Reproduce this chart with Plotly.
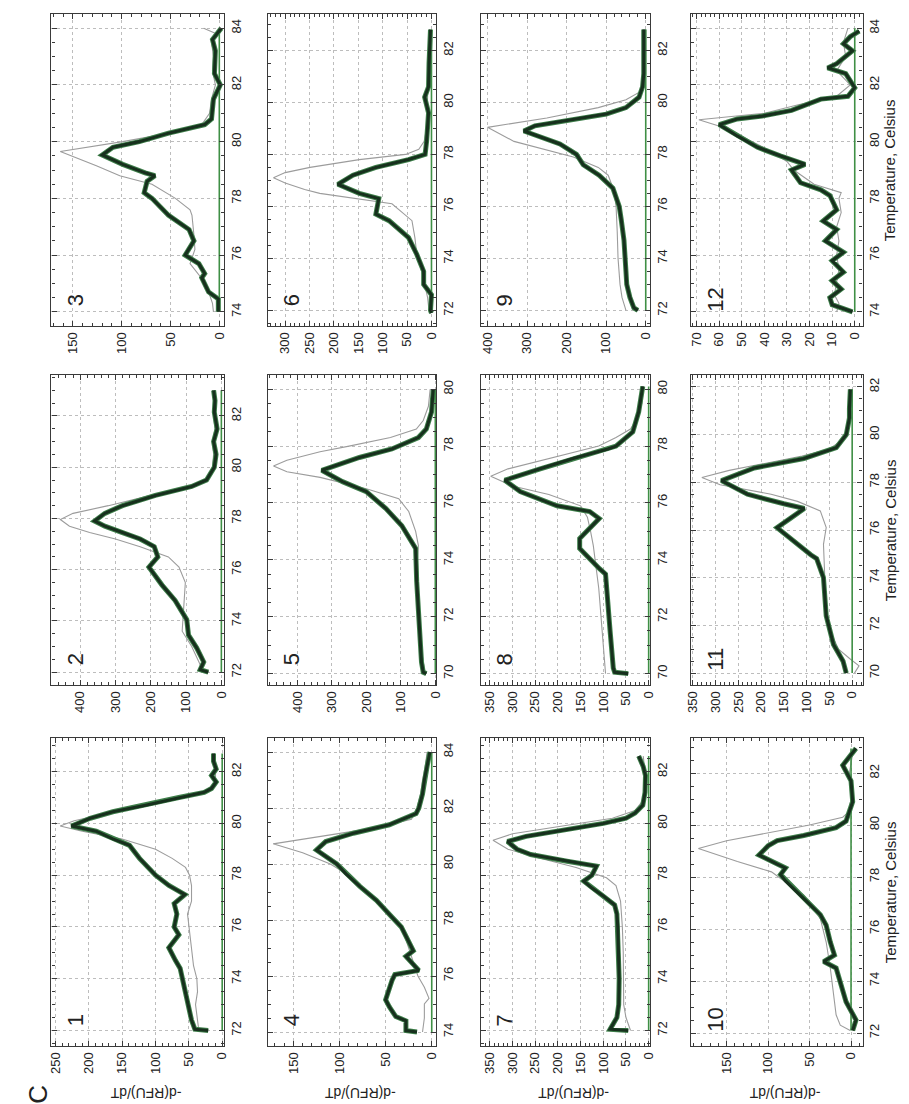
import plotly.graph_objects as go

# ------------------------------------------------------------------
# Data: temperature (Celsius) and -d(RFU)/dT
# "thick" = bold dark-green curve, "gray" = thin grey curve
# ------------------------------------------------------------------
T1_thick = [72.0, 72.05, 72.4, 72.9, 73.6, 74.4, 74.7, 75.2, 75.7, 76.0, 76.5, 76.9, 77.25, 77.6, 78.0, 78.65, 79.15, 79.4, 79.7, 79.9, 80.2, 80.45, 80.7, 81.0, 81.2, 81.35, 81.6, 81.85, 82.1, 82.4, 82.7]
V1_thick = [21, 41, 46, 50, 56, 63, 70, 80, 65, 72, 68, 72, 56, 80, 100, 124, 139, 164, 189, 226, 198, 164, 115, 65, 27, 16, 9, 16, 9, 13, 13]
T1_gray = [72.0, 72.5, 73.0, 73.5, 74.0, 74.5, 75.0, 75.5, 76.0, 76.5, 77.0, 77.6, 78.0, 78.3, 78.65, 79.0, 79.4, 79.7, 79.9, 80.1, 80.4, 80.8, 81.1, 81.3, 81.6, 82.0, 82.4, 82.7]
V1_gray = [35, 38, 40, 37, 38, 43, 45, 48, 50, 52, 46, 46, 49, 55, 75, 100, 150, 210, 243, 222, 170, 100, 45, 20, 10, 10, 11, 12]

T2_thick = [72.0, 72.1, 72.4, 72.95, 73.45, 74.05, 74.8, 75.4, 76.1, 76.5, 76.9, 77.2, 77.45, 77.7, 77.9, 78.2, 78.5, 78.9, 79.25, 79.5, 80.0, 80.5, 81.0, 81.5, 82.15, 82.6, 83.0]
V2_thick = [37, 60, 50, 70, 93, 98, 131, 168, 205, 180, 190, 230, 280, 330, 359, 330, 280, 187, 84, 42, 20, 15, 22, 12, 20, 18, 22]
T2_gray = [72.0, 72.4, 73.0, 73.6, 74.3, 75.0, 75.5, 76.1, 76.5, 76.9, 77.2, 77.45, 77.7, 77.96, 78.2, 78.5, 78.9, 79.2, 79.5, 80.0, 80.5, 81.0, 81.5, 82.0, 82.5, 83.0]
V2_gray = [50, 64, 84, 111, 108, 104, 102, 120, 150, 230, 300, 373, 430, 456, 420, 320, 200, 100, 45, 25, 22, 25, 18, 22, 20, 25]

T3_thick = [74.0, 74.45, 74.7, 75.2, 75.35, 75.7, 76.0, 76.5, 76.9, 77.4, 78.0, 78.2, 78.6, 78.8, 78.9, 79.2, 79.53, 79.8, 80.0, 80.3, 80.6, 80.8, 81.5, 82.0, 82.4, 83.2, 83.6, 84.0]
V3_thick = [1, 1, 11, 18, 15, 21, 35, 26, 31, 52, 69, 77, 74, 66, 76, 99, 120, 109, 82, 52, 15, 8, 6, -1, 5, 4, 7, -2]
T3_gray = [74.0, 74.3, 74.6, 75.0, 75.7, 76.2, 76.7, 77.4, 77.6, 78.0, 78.5, 78.8, 79.15, 79.65, 80.0, 80.4, 80.6, 81.0, 81.5, 82.0, 82.5, 83.0, 83.5, 83.8, 84.0]
V3_gray = [6, 7, 10, 14, 30, 25, 26, 28, 30, 45, 69, 102, 126, 163, 99, 35, 18, 10, 8, 4, 7, 6, 8, 3, 16]

T4_thick = [74.0, 74.05, 74.4, 74.55, 74.9, 75.15, 75.85, 76.05, 76.2, 76.7, 76.9, 77.4, 77.75, 78.1, 78.7, 79.2, 79.65, 80.0, 80.5, 80.8, 81.1, 81.4, 81.8, 82.0, 82.5, 83.0, 83.5, 84.0]
V4_thick = [16, 28, 28, 39, 46, 50, 43, 40, 14, 28, 20, 28, 33, 43, 60, 78, 93, 103, 125, 115, 85, 46, 17, 14, 10, 8, 5, 2]
T4_gray = [74.0, 74.5, 75.0, 75.2, 75.6, 76.0, 76.5, 77.0, 77.5, 78.0, 78.5, 79.0, 79.5, 80.0, 80.4, 80.72, 81.0, 81.3, 81.6, 82.0, 82.5, 83.0, 83.5, 84.0]
V4_gray = [10, 8, 8, 3, 8, 15, 20, 25, 30, 40, 55, 70, 85, 110, 140, 172, 120, 60, 22, 16, 12, 10, 7, 5]

T5_thick = [70.0, 70.05, 70.4, 72.05, 73.25, 74.4, 74.65, 75.2, 75.8, 76.4, 76.75, 77.15, 77.6, 77.9, 78.3, 78.6, 79.2, 80.0]
V5_thick = [26, 35, 40, 49, 54, 57, 69, 97, 143, 200, 269, 329, 220, 126, 49, 26, 11, 6]
T5_gray = [70.0, 71.0, 72.0, 73.0, 74.0, 74.5, 75.0, 75.7, 76.15, 76.5, 76.75, 76.9, 77.1, 77.3, 77.5, 77.8, 78.0, 78.3, 78.6, 78.9, 79.4, 80.0]
V5_gray = [30, 42, 47, 50, 52, 49, 57, 77, 106, 200, 280, 334, 430, 469, 430, 334, 250, 130, 55, 35, 20, 15]

T6_thick = [71.9, 72.0, 72.6, 73.0, 73.5, 74.15, 74.8, 75.45, 75.7, 76.0, 76.3, 76.5, 76.85, 77.2, 77.5, 77.8, 78.0, 78.5, 79.0, 79.6, 80.2, 80.6, 81.5, 82.2, 82.8]
V6_thick = [0, 2, 0, 16, 16, 30, 47, 87, 114, 111, 108, 148, 192, 161, 114, 47, 13, 10, 8, 6, 14, 6, 5, 4, 2]
T6_gray = [72.0, 72.5, 73.0, 73.5, 74.15, 74.8, 75.45, 76.1, 76.5, 76.65, 76.9, 77.1, 77.3, 77.5, 77.8, 78.0, 78.2, 78.5, 79.0, 80.0, 81.0, 82.0, 82.8]
V6_gray = [5, 8, 14, 20, 30, 34, 40, 81, 229, 260, 300, 324, 300, 249, 148, 53, 26, 15, 10, 8, 6, 5, 4]

T7_thick = [72.0, 72.05, 72.5, 73.0, 74.0, 75.0, 76.0, 76.5, 76.85, 77.2, 77.5, 77.77, 78.0, 78.35, 78.54, 78.8, 79.0, 79.3, 79.5, 79.8, 80.0, 80.2, 80.4, 80.7, 81.2, 81.85, 82.2, 82.6]
V7_thick = [45, 85, 70, 66, 65, 66, 68, 70, 75, 100, 125, 143, 125, 115, 180, 260, 290, 311, 270, 165, 100, 50, 30, 13, 8, 7, 12, 22]
T7_gray = [72.0, 72.5, 73.0, 74.0, 75.0, 76.0, 77.0, 77.6, 77.9, 78.3, 78.7, 79.0, 79.35, 79.6, 79.9, 80.2, 80.5, 80.9, 81.5, 82.0, 82.6]
V7_gray = [40, 50, 55, 55, 56, 58, 62, 72, 93, 160, 250, 310, 343, 300, 190, 80, 30, 12, 8, 8, 12]

T8_thick = [70.0, 70.05, 70.2, 70.5, 71.5, 72.5, 73.5, 73.7, 74.4, 74.75, 75.1, 75.45, 75.7, 75.9, 76.4, 76.8, 77.2, 77.57, 77.9, 78.0, 78.5, 79.2, 80.1]
V8_thick = [45, 75, 78, 80, 85, 90, 95, 109, 152, 152, 130, 109, 130, 202, 283, 317, 239, 165, 90, 72, 35, 22, 13]
T8_gray = [70.0, 71.0, 72.0, 73.0, 74.0, 74.5, 75.0, 75.5, 75.9, 76.3, 76.6, 76.94, 77.2, 77.6, 78.0, 78.3, 78.6, 79.0, 79.5, 80.0]
V8_gray = [95, 100, 105, 110, 118, 122, 128, 135, 150, 220, 300, 348, 310, 210, 110, 72, 40, 25, 15, 12]

T9_thick = [72.0, 72.1, 72.5, 73.0, 73.5, 74.0, 74.7, 75.5, 76.0, 76.7, 77.2, 77.6, 78.0, 78.4, 78.7, 78.9, 79.1, 79.35, 79.55, 79.8, 80.2, 80.6, 81.1, 82.0, 82.8]
V9_thick = [20, 30, 40, 48, 50, 52, 55, 62, 67, 83, 118, 158, 175, 217, 270, 308, 280, 180, 100, 50, 17, 8, 5, 5, 5]
T9_gray = [72.0, 72.5, 73.0, 74.0, 75.0, 76.0, 76.6, 77.2, 77.5, 77.9, 78.5, 79.04, 79.4, 79.8, 80.1, 80.4, 81.0, 82.0, 82.8]
V9_gray = [50, 60, 65, 70, 72, 75, 80, 95, 120, 183, 333, 400, 250, 120, 50, 15, 5, 5, 5]

T10_thick = [72.1, 72.5, 73.2, 74.0, 74.5, 74.75, 75.0, 75.5, 76.15, 76.55, 77.3, 77.85, 78.1, 78.35, 78.5, 78.85, 79.2, 79.4, 79.6, 79.9, 80.15, 80.9, 81.7, 82.3, 82.95]
V10_thick = [-2, -6, 6, 13, 18, 33, 20, 25, 30, 37, 61, 79, 85, 79, 89, 111, 100, 89, 57, 18, 6, -2, 0, 10, -6]
T10_gray = [72.1, 72.3, 72.7, 73.5, 74.5, 75.5, 76.4, 77.3, 77.85, 78.2, 78.6, 79.1, 79.4, 79.7, 80.0, 80.3, 80.5, 81.0, 82.0, 82.95]
V10_gray = [1, 13, 18, 21, 25, 30, 37, 57, 80, 96, 137, 184, 150, 100, 50, 10, 3, 0, 2, -3]

T11_thick = [70.0, 70.5, 71.2, 72.4, 74.0, 74.8, 74.96, 75.55, 76.1, 76.5, 76.9, 77.1, 77.5, 78.07, 78.6, 79.0, 79.45, 80.0, 80.7, 81.1, 81.9]
V11_thick = [13, 20, 41, 57, 63, 78, 91, 128, 165, 135, 105, 150, 230, 287, 215, 106, 35, 13, 6, 6, 4]
T11_gray = [70.0, 70.3, 70.6, 71.0, 71.5, 72.0, 73.0, 74.0, 75.0, 75.4, 76.1, 76.8, 77.2, 77.5, 77.9, 78.2, 78.5, 78.8, 79.1, 79.4, 79.8, 80.3, 81.0, 81.9]
V11_gray = [-5, -15, 5, 30, 42, 52, 58, 60, 63, 63, 57, 70, 120, 178, 290, 330, 270, 190, 110, 50, 20, 10, 6, 6]

T12_thick = [74.0, 74.25, 74.5, 74.8, 75.1, 75.4, 75.8, 76.1, 76.5, 76.9, 77.2, 77.6, 78.1, 78.3, 78.55, 79.0, 79.2, 79.4, 79.5, 79.8, 80.2, 80.6, 80.8, 80.9, 81.1, 81.5, 81.6, 81.9, 82.4, 82.6, 82.75, 83.2, 83.45, 83.7, 83.9]
V12_thick = [1, 10, 11, 6, 10, 5, 10, 5, 13, 8, 14, 8, 11, 15, 24, 28, 22, 30, 33, 43, 52, 60, 52, 41, 28, 15, 3, 0, 4, 12, 8, 1, 5, 2, -2]
T12_gray = [74.0, 74.3, 74.6, 75.0, 75.5, 76.0, 76.5, 77.0, 77.5, 78.0, 78.2, 78.5, 79.0, 79.3, 79.7, 80.1, 80.5, 80.77, 81.0, 81.3, 81.6, 82.0, 82.5, 83.0, 83.5, 84.0]
V12_gray = [8, 7, 9, 8, 7, 8, 7, 8, 6, 7, 6, 18, 27, 30, 38, 48, 58, 69, 40, 25, 8, 2, 8, 4, 5, 3]

# value-axis tick labels and temperature tick labels per panel
VTICKS = {1: [0, 50, 100, 150, 200, 250], 2: [0, 100, 200, 300, 400], 3: [0, 50, 100, 150],
          4: [0, 50, 100, 150], 5: [0, 100, 200, 300, 400], 6: [0, 50, 100, 150, 200, 250, 300],
          7: [0, 50, 100, 150, 200, 250, 300, 350], 8: [0, 50, 100, 150, 200, 250, 300, 350],
          9: [0, 100, 200, 300, 400], 10: [0, 50, 100, 150],
          11: [0, 50, 100, 150, 200, 250, 300, 350], 12: [0, 10, 20, 30, 40, 50, 60, 70]}
TTICKS = {1: [72, 74, 76, 78, 80, 82], 2: [72, 74, 76, 78, 80, 82], 3: [74, 76, 78, 80, 82, 84],
          4: [74, 76, 78, 80, 82, 84], 5: [70, 72, 74, 76, 78, 80], 6: [72, 74, 76, 78, 80, 82],
          7: [72, 74, 76, 78, 80, 82], 8: [70, 72, 74, 76, 78, 80], 9: [72, 74, 76, 78, 80, 82],
          10: [72, 74, 76, 78, 80, 82], 11: [70, 72, 74, 76, 78, 80, 82], 12: [74, 76, 78, 80, 82, 84]}

# ------------------------------------------------------------------
# Layout (figure is the original panel grid rotated 90 deg CCW)
# ------------------------------------------------------------------
W, H = 909, 1104
VRANGE = {1: [256, -3], 2: [481, -8], 3: [172, -5], 4: [178, -5], 5: [486, -3], 6: [336, -10],
          7: [370, -4], 8: [370, -4], 9: [417, -12], 10: [193, -14], 11: [354, -23], 12: [72.5, -3.5]}
TRANGE = {1: [71.4, 83.3], 2: [71.5, 83.6], 3: [73.5, 84.5], 4: [73.5, 84.5], 5: [69.6, 80.5],
          6: [71.4, 83.4], 7: [71.4, 83.3], 8: [69.6, 80.5], 9: [71.4, 83.4], 10: [71.5, 83.35],
          11: [69.5, 82.5], 12: [73.5, 84.5]}
COL_X = [(38, 213), (257, 428), (473, 645), (686, 860)]
ROW_Y = [(6, 318), (367, 677), (730, 1038)]

DATA = {1: (T1_thick, V1_thick, T1_gray, V1_gray), 2: (T2_thick, V2_thick, T2_gray, V2_gray),
        3: (T3_thick, V3_thick, T3_gray, V3_gray), 4: (T4_thick, V4_thick, T4_gray, V4_gray),
        5: (T5_thick, V5_thick, T5_gray, V5_gray), 6: (T6_thick, V6_thick, T6_gray, V6_gray),
        7: (T7_thick, V7_thick, T7_gray, V7_gray), 8: (T8_thick, V8_thick, T8_gray, V8_gray),
        9: (T9_thick, V9_thick, T9_gray, V9_gray), 10: (T10_thick, V10_thick, T10_gray, V10_gray),
        11: (T11_thick, V11_thick, T11_gray, V11_gray), 12: (T12_thick, V12_thick, T12_gray, V12_gray)}

FONT = "Liberation Sans, Arial, sans-serif"


def px(x):
    return x / W


def py(y):
    return 1 - y / H


def note(text, x, y, angle, size):
    return dict(text=text, x=px(x), y=py(y), xref="paper", yref="paper", showarrow=False,
                xanchor="center", yanchor="middle", textangle=angle,
                font=dict(family=FONT, size=size, color="#222"))


fig = go.Figure()
annotations = []
layout_axes = {}

for k in range(1, 13):
    col = (k - 1) // 3
    row = 2 - (k - 1) % 3
    x0, x1 = COL_X[col]
    y0, y1 = ROW_Y[row]
    xa = "x" if k == 1 else f"x{k}"
    ya = "y" if k == 1 else f"y{k}"
    Tk, Vk, Tg, Vg = DATA[k]

    # grey thin curve
    fig.add_trace(go.Scatter(x=Vg, y=Tg, xaxis=xa, yaxis=ya, mode="lines",
                             line=dict(color="#9c9c9c", width=1.1), showlegend=False,
                             hoverinfo="skip"))
    # green baseline at zero
    tmin, tmax = min(Tk + Tg), max(Tk + Tg)
    fig.add_trace(go.Scatter(x=[0, 0], y=[tmin, tmax], xaxis=xa, yaxis=ya, mode="lines",
                             line=dict(color="#3f8f45", width=1.6), showlegend=False,
                             hoverinfo="skip"))
    # thick curve: green halo + dark core
    fig.add_trace(go.Scatter(x=Vk, y=Tk, xaxis=xa, yaxis=ya, mode="lines",
                             line=dict(color="#3e7f4a", width=5.0),
                             showlegend=False, hoverinfo="skip"))
    fig.add_trace(go.Scatter(x=Vk, y=Tk, xaxis=xa, yaxis=ya, mode="lines",
                             line=dict(color="#17301d", width=3.1),
                             showlegend=False, hoverinfo="skip"))

    vt = VTICKS[k]
    vstep = vt[1] - vt[0]
    key_x = "xaxis" if k == 1 else f"xaxis{k}"
    key_y = "yaxis" if k == 1 else f"yaxis{k}"
    layout_axes[key_x] = dict(
        domain=[px(x0), px(x1)], anchor=ya, range=VRANGE[k], tickvals=vt,
        ticktext=[str(v) for v in vt], tickangle=-90, side="bottom",
        showline=True, linecolor="#3a3a3a", linewidth=1.3, mirror="ticks",
        ticks="inside", ticklen=5, tickcolor="#3a3a3a", tickwidth=1,
        minor=dict(ticks="inside", ticklen=3, dtick=vstep / 5, tick0=0, tickcolor="#3a3a3a",
                   showgrid=False),
        showgrid=True, gridcolor="#bdbdbd", griddash="dot", gridwidth=1,
        zeroline=False, tickfont=dict(family=FONT, size=13, color="#222"),
    )
    layout_axes[key_y] = dict(
        domain=[py(y1), py(y0)], anchor=xa, range=TRANGE[k], tickvals=TTICKS[k],
        tickangle=-90, side="right",
        showline=True, linecolor="#3a3a3a", linewidth=1.3, mirror="ticks",
        ticks="inside", ticklen=5, tickcolor="#3a3a3a", tickwidth=1,
        minor=dict(ticks="inside", ticklen=3, dtick=0.5, tick0=0, tickcolor="#3a3a3a",
                   showgrid=False),
        showgrid=True, gridcolor="#bdbdbd", griddash="dot", gridwidth=1,
        zeroline=False, tickfont=dict(family=FONT, size=13, color="#222"),
    )

    # panel number (bottom-left corner inside the frame)
    annotations.append(note(str(k), x0 + 24, y1 - 26, -90, 22))
    # value-axis title under the bottom row
    if row == 2:
        annotations.append(note("-d(RFU)/dT", (x0 + x1) / 2 + 8, 1085, 180, 14))
    # temperature title right of the last column
    if col == 3:
        annotations.append(note("Temperature, Celsius", 888, (y0 + y1) / 2, -90, 15))

annotations.append(note("C", 24, 1086, -90, 26))

fig.update_layout(width=W, height=H, margin=dict(l=0, r=0, t=0, b=0),
                  paper_bgcolor="white", plot_bgcolor="white",
                  annotations=annotations, showlegend=False, **layout_axes)

fig.write_html("out.html")
